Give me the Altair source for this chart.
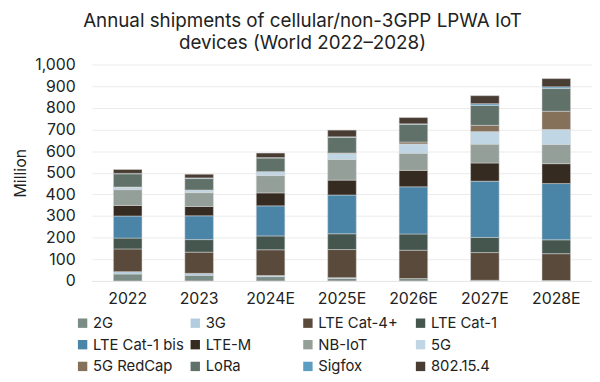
import altair as alt
import pandas as pd

years = ["2022", "2023", "2024E", "2025E", "2026E", "2027E", "2028E"]
techs = ["2G", "3G", "LTE Cat-4+", "LTE Cat-1", "LTE Cat-1 bis", "LTE-M",
         "NB-IoT", "5G", "5G RedCap", "LoRa", "Sigfox", "802.15.4"]
colors = ["#7b8c86", "#b3cde0", "#5a4a3b", "#45564f", "#4a84a6", "#352b21",
          "#939f98", "#c0d6e4", "#85705a", "#5f7168", "#5e9dc2", "#483c33"]

v_2G = [32, 26, 20, 12, 11, 3, 2]
v_3G = [11, 9, 5, 3, 0, 0, 0]
v_cat4 = [105, 98, 119, 130, 131, 128, 124]
v_cat1 = [50, 58, 64, 73, 75, 70, 64]
v_cat1bis = [102, 110, 139, 179, 218, 260, 260]
v_ltem = [49, 43, 60, 69, 76, 84, 92]
v_nbiot = [73, 64, 80, 95, 79, 87, 89]
v_5g = [12, 12, 18, 28, 43, 58, 69]
v_redcap = [0, 0, 0, 2, 9, 29, 84]
v_lora = [61, 53, 63, 73, 82, 92, 105]
v_sigfox = [2, 3, 2, 2, 2, 8, 8]
v_802 = [18, 17, 21, 31, 29, 37, 38]

series = [v_2G, v_3G, v_cat4, v_cat1, v_cat1bis, v_ltem, v_nbiot, v_5g,
          v_redcap, v_lora, v_sigfox, v_802]

rows = []
for i, (t, vals) in enumerate(zip(techs, series)):
    for y, v in zip(years, vals):
        rows.append({"year": y, "tech": t, "value": v, "order": i})
df = pd.DataFrame(rows)

FONT = "Inter"

chart = alt.Chart(df).mark_bar(stroke="#d8d8d8", strokeWidth=0.5).encode(
    x=alt.X("year:N", sort=years, title=None,
            scale=alt.Scale(paddingInner=0.6, paddingOuter=0.3),
            axis=alt.Axis(labelAngle=0, labelFontSize=16, labelColor="#222",
                          labelFont=FONT, ticks=False, domain=True,
                          domainColor="#e6e6e6", labelPadding=10)),
    y=alt.Y("value:Q", stack="zero", title="Million",
            scale=alt.Scale(domain=[0, 1000]),
            axis=alt.Axis(values=list(range(0, 1001, 100)), format=",d",
                          labelFontSize=16, labelColor="#222", labelFont=FONT,
                          titleFont=FONT, titleFontSize=16, titleColor="#222",
                          titleFontWeight="normal", ticks=False, domain=False,
                          gridColor="#ebebeb", labelPadding=17, titlePadding=6)),
    color=alt.Color("tech:N", sort=techs,
                    scale=alt.Scale(domain=techs, range=colors),
                    legend=alt.Legend(title=None, orient="none", legendX=-17,
                                      legendY=254, columns=4, gridAlign="all",
                                      direction="horizontal",
                                      symbolType="square", symbolSize=90,
                                      symbolStrokeWidth=0,
                                      labelFontSize=15, labelFont=FONT,
                                      labelColor="#222", labelOffset=3,
                                      columnPadding=4, rowPadding=6,
                                      labelLimit=200)),
    order=alt.Order("order:Q", sort="ascending"),
).properties(
    width=506, height=219,
    padding={"left": 5, "right": 0, "top": 2, "bottom": 0},
    title=alt.TitleParams(
        ["Annual shipments of cellular/non-3GPP LPWA IoT",
         "devices (World 2022\u20132028)"],
        anchor="middle", frame="bounds", fontSize=19, font=FONT,
        fontWeight="normal", color="#222", lineHeight=22, offset=4),
).configure_view(stroke=None)

chart.save("out.html", embed_options={"renderer": "svg", "actions": False})
